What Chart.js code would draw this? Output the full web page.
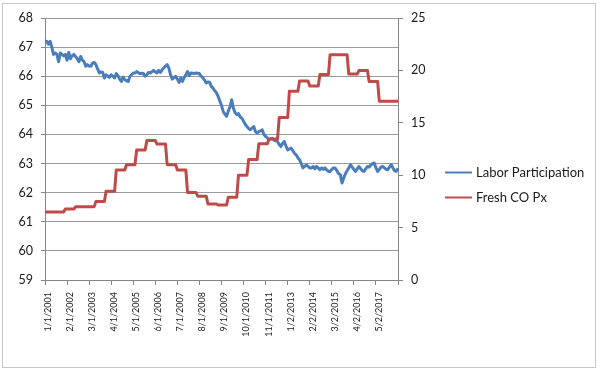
<!DOCTYPE html>
<html>
<head>
<meta charset="utf-8">
<script src="https://cdn.jsdelivr.net/npm/chart.js@4.4.1/dist/chart.umd.min.js"></script>
<style>
  html, body { margin: 0; padding: 0; background: #fff; }
  #wrap { position: relative; width: 600px; height: 372px; }
  #frame { position: absolute; left: 2px; top: 3px; width: 592px; height: 363px; border: 1px solid #c8c8c8; pointer-events: none; }
  canvas { position: absolute; left: 0; top: 0; }
</style>
</head>
<body>
<div id="wrap">
  <canvas id="chart" width="600" height="372"></canvas>
  <div id="frame"></div>
</div>
<script>
// monthly dates, one month missing in 2012 (dates move to the 2nd after that)
const categories = [];
for (let i = 0; i < 209; i++) {
  const shift = i >= 143 ? 1 : 0;
  const m = i + shift;
  categories.push(((m % 12) + 1) + '/' + (shift ? 2 : 1) + '/' + (2001 + Math.floor(m / 12)));
}

const tickLabels = ['1/1/2001', '2/1/2002', '3/1/2003', '4/1/2004', '5/1/2005', '6/1/2006',
  '7/1/2007', '8/1/2008', '9/1/2009', '10/1/2010', '11/1/2011', '1/2/2013', '2/2/2014',
  '3/2/2015', '4/2/2016', '5/2/2017'];

const laborParticipation = [
  67.2, 67.2, 67.1, 67.2, 67.0, 66.75, 66.8, 66.75, 66.5, 66.8, 66.75, 66.7,
  66.75, 66.55, 66.82, 66.6, 66.7, 66.75, 66.68, 66.6, 66.5, 66.68, 66.55, 66.5,
  66.34, 66.4, 66.35, 66.34, 66.45, 66.47, 66.4, 66.25, 66.11, 66.15, 66.13, 65.94,
  66.05, 66.0, 65.96, 66.05, 66.0, 65.94, 66.09, 66.02, 65.9, 65.82, 65.97, 65.88,
  65.85, 65.82, 65.99, 66.05, 66.11, 66.11, 66.16, 66.12, 66.09, 66.1, 66.09, 66.0,
  66.05, 66.13, 66.11, 66.15, 66.2, 66.15, 66.11, 66.2, 66.13, 66.22, 66.28, 66.35,
  66.4, 66.28, 66.05, 65.9, 65.95, 66.0, 65.9, 65.79, 65.94, 65.82, 65.95, 66.05,
  66.16, 66.02, 66.11, 66.1, 66.09, 66.11, 66.1, 66.09, 66.0, 65.95, 65.86, 65.77,
  65.8, 65.79, 65.65, 65.59, 65.5, 65.44, 65.31, 65.15, 65.0, 64.79, 64.7, 64.62,
  64.8, 64.95, 65.19, 64.9, 64.75, 64.68, 64.72, 64.6, 64.56, 64.45, 64.35, 64.27,
  64.2, 64.16, 64.22, 64.27, 64.1, 64.05, 64.1, 64.12, 64.16, 64.0, 63.93, 63.88,
  63.82, 63.85, 63.87, 63.8, 63.78, 63.76, 63.65, 63.59, 63.7, 63.76, 63.6, 63.47,
  63.5, 63.53, 63.45, 63.35, 63.3, 63.2, 63.13, 63.0, 62.85, 62.9, 62.96, 62.9,
  62.85, 62.85, 62.9, 62.82, 62.9, 62.85, 62.79, 62.85, 62.8, 62.85, 62.78, 62.73,
  62.73, 62.8, 62.85, 62.85, 62.75, 62.65, 62.62, 62.33, 62.5, 62.65, 62.75, 62.85,
  62.96, 62.88, 62.8, 62.73, 62.82, 62.9, 62.82, 62.75, 62.73, 62.82, 62.9, 62.88,
  62.95, 63.0, 63.02, 62.85, 62.73, 62.8, 62.88, 62.9, 62.85, 62.8, 62.79, 62.88,
  62.96, 62.85, 62.75, 62.73, 62.84
];

const freshCoPx = [
  6.5, 6.5, 6.5, 6.5, 6.5, 6.5, 6.5, 6.5, 6.5, 6.5, 6.5, 6.5,
  6.77, 6.77, 6.77, 6.77, 6.77, 6.77,
  7.0, 7.0, 7.0, 7.0, 7.0, 7.0, 7.0, 7.0, 7.0, 7.0, 7.0, 7.0,
  7.5, 7.5, 7.5, 7.5, 7.5, 7.5,
  8.46, 8.46, 8.46, 8.46, 8.46, 8.46,
  10.5, 10.5, 10.5, 10.5, 10.5, 10.5,
  11.0, 11.0, 11.0, 11.0, 11.0, 11.0,
  12.4, 12.4, 12.4, 12.4, 12.4, 12.4,
  13.3, 13.3, 13.3, 13.3, 13.3, 13.3,
  12.97, 12.97, 12.97, 12.97, 12.97, 12.97,
  11.0, 11.0, 11.0, 11.0, 11.0, 11.0,
  10.5, 10.5, 10.5, 10.5, 10.5, 10.5,
  8.34, 8.34, 8.34, 8.34, 8.34, 8.34,
  8.0, 8.0, 8.0, 8.0, 8.0, 8.0,
  7.26, 7.26, 7.26, 7.26, 7.26, 7.26,
  7.16, 7.16, 7.16, 7.16, 7.16, 7.16,
  7.9, 7.9, 7.9, 7.9, 7.9, 7.9,
  10.0, 10.0, 10.0, 10.0, 10.0, 10.0,
  11.5, 11.5, 11.5, 11.5, 11.5, 11.5,
  13.0, 13.0, 13.0, 13.0, 13.0, 13.0,
  13.45, 13.45, 13.45, 13.45, 13.45, 13.45,
  15.5, 15.5, 15.5, 15.5, 15.5, 15.5,
  18.0, 18.0, 18.0, 18.0, 18.0, 18.0,
  19.0, 19.0, 19.0, 19.0, 19.0, 19.0,
  18.5, 18.5, 18.5, 18.5, 18.5, 18.5,
  19.6, 19.6, 19.6, 19.6, 19.6, 19.6,
  21.5, 21.5, 21.5, 21.5, 21.5, 21.5, 21.5, 21.5, 21.5, 21.5, 21.5,
  19.65, 19.65, 19.65, 19.65, 19.65, 19.65,
  20.0, 20.0, 20.0, 20.0, 20.0, 20.0,
  18.95, 18.95, 18.95, 18.95, 18.95, 18.95,
  17.05, 17.05, 17.05, 17.05, 17.05, 17.05, 17.05, 17.05, 17.05, 17.05, 17.05, 17.05
];

const leftTicks = [59, 60, 61, 62, 63, 64, 65, 66, 67, 68];
const rightTicks = [0, 5, 10, 15, 20, 25];

const axisColor = '#868686';
const textColor = '#1a1a1a';

// legend drawn beside the plot like the Excel one
const sideLegend = {
  id: 'sideLegend',
  afterDraw(chart) {
    const ctx = chart.ctx;
    ctx.save();
    ctx.font = '13px Lato';
    ctx.textBaseline = 'middle';
    chart.data.datasets.forEach((ds, k) => {
      const y = 172.5 + k * 25;
      ctx.strokeStyle = ds.borderColor;
      ctx.lineWidth = 2;
      ctx.beginPath();
      ctx.moveTo(445, y);
      ctx.lineTo(472, y);
      ctx.stroke();
      ctx.fillStyle = textColor;
      ctx.fillText(ds.label, 476, y);
    });
    ctx.restore();
  }
};

new Chart(document.getElementById('chart'), {
  type: 'line',
  data: {
    labels: categories,
    datasets: [
      {
        label: 'Labor Participation',
        data: laborParticipation,
        yAxisID: 'y',
        borderColor: '#4a7ebb',
        borderWidth: 3,
        pointRadius: 0,
        tension: 0,
        borderJoinStyle: 'round',
        order: 1
      },
      {
        label: 'Fresh CO Px',
        data: freshCoPx,
        yAxisID: 'y1',
        borderColor: '#be4b48',
        borderWidth: 3,
        pointRadius: 0,
        tension: 0,
        borderJoinStyle: 'round',
        order: 0
      }
    ]
  },
  options: {
    responsive: false,
    animation: false,
    layout: { padding: { top: 18, left: 0, right: 0, bottom: 0 } },
    plugins: { legend: { display: false }, tooltip: { enabled: false } },
    scales: {
      x: {
        offset: false,
        afterFit: s => { s.height = 92; },
        grid: {
          drawOnChartArea: false,
          tickLength: 5,
          tickColor: c => (c.index % 13 === 0 ? axisColor : 'rgba(0,0,0,0)')
        },
        border: { color: axisColor },
        ticks: {
          autoSkip: false,
          minRotation: 90,
          maxRotation: 90,
          padding: 7,
          labelOffset: 3,
          color: textColor,
          font: { family: 'Lato', size: 9 },
          callback: (v, i) => (i % 13 === 0 && tickLabels[i / 13]) ? tickLabels[i / 13] : ''
        }
      },
      y: {
        position: 'left',
        min: leftTicks[0],
        max: leftTicks[leftTicks.length - 1],
        afterFit: s => { s.width = 45; },
        grid: { color: '#9a9a9a', tickLength: 4, tickColor: axisColor },
        border: { color: axisColor },
        ticks: { stepSize: 1, padding: 8, color: textColor, font: { family: 'Lato', size: 12.5 } }
      },
      y1: {
        position: 'right',
        min: rightTicks[0],
        max: rightTicks[rightTicks.length - 1],
        afterFit: s => { s.width = 202; },
        grid: { drawOnChartArea: false, tickLength: 5, tickColor: axisColor },
        border: { color: axisColor },
        ticks: { stepSize: 5, padding: 8, color: textColor, font: { family: 'Lato', size: 12.5 } }
      }
    }
  },
  plugins: [sideLegend]
});
</script>
</body>
</html>
